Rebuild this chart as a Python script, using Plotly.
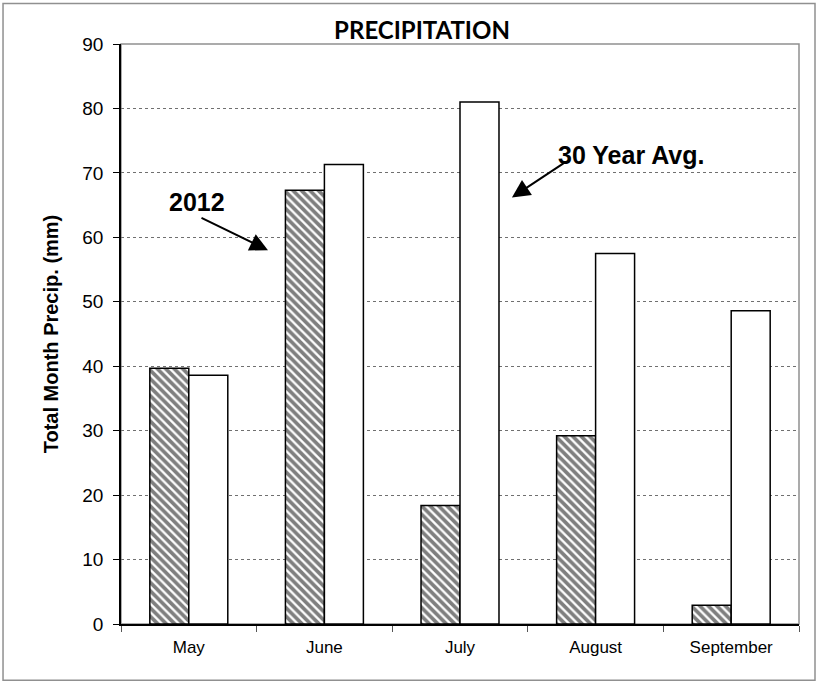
import plotly.graph_objects as go

months = ["May", "June", "July", "August", "September"]
precip_2012 = [39.7, 67.3, 18.4, 29.2, 2.9]
precip_30yr = [38.6, 71.3, 81.0, 57.5, 48.6]
y_ticks = [0, 10, 20, 30, 40, 50, 60, 70, 80, 90]

fig = go.Figure()
fig.add_trace(go.Bar(
    x=months, y=precip_2012, name="2012",
    marker=dict(color="white", line=dict(color="black", width=1.5),
                pattern=dict(shape="\\", fgcolor="black", bgcolor="white",
                             size=6, solidity=0.62, fillmode="overlay")),
))
fig.add_trace(go.Bar(
    x=months, y=precip_30yr, name="30 Year Avg.",
    marker=dict(color="white", line=dict(color="black", width=1.5)),
))

fig.update_layout(
    width=824, height=684,
    margin=dict(l=121, r=25, t=44, b=60),
    paper_bgcolor="white", plot_bgcolor="white",
    barmode="group", bargap=0.425, bargroupgap=0,
    showlegend=False,
    font=dict(family="Liberation Sans, Arial", color="black"),
    title=dict(text="<b>PRECIPITATION</b>", xref="container", x=422 / 824,
               xanchor="center", y=1 - 31 / 684, yanchor="middle",
               font=dict(family="Lato", size=24, color="black")),
)
fig.update_yaxes(
    range=[0, 90], tickvals=y_ticks, showgrid=True, gridcolor="#707070",
    griddash="dot", gridwidth=1, showline=True, linecolor="black", linewidth=1.5,
    ticks="outside", ticklen=6, tickcolor="black", tickfont=dict(size=19),
    ticklabelstandoff=6,
    title=dict(text="<b>Total Month Precip. (mm)</b>", font=dict(size=20), standoff=18),
    zeroline=False,
)
fig.update_xaxes(
    showline=True, linecolor="black", linewidth=1.5,
    ticks="outside", tickson="boundaries", ticklen=6, tickcolor="#555",
    tickfont=dict(size=17), ticklabelstandoff=7,
)

# plot area border (gray top/right) and outer chart border
fig.add_shape(type="rect", xref="paper", yref="paper", x0=0, x1=1, y0=0, y1=1,
              line=dict(color="#909090", width=1.5), layer="below")
fig.add_shape(type="rect", xref="paper", yref="paper",
              x0=-0.174, x1=1.0236, y0=-0.097, y1=1.070,
              line=dict(color="#909090", width=1.5), layer="below")

fig.add_annotation(x=0.584, y=58.0, xref="x", yref="y", ax=-68, ay=-33,
                   showarrow=True, arrowhead=2, arrowsize=1.8, arrowwidth=2,
                   arrowcolor="black", text="")
fig.add_annotation(x=0.06, y=65.5, xref="x", yref="y", text="<b>2012</b>",
                   showarrow=False, font=dict(size=25, color="black"))
fig.add_annotation(x=2.383, y=66.2, xref="x", yref="y", ax=53, ay=-35,
                   showarrow=True, arrowhead=2, arrowsize=1.8, arrowwidth=2,
                   arrowcolor="black", text="")
fig.add_annotation(x=3.26, y=72.8, xref="x", yref="y", text="<b>30 Year Avg.</b>",
                   showarrow=False, font=dict(size=25, color="black"))

fig.write_html("out.html", config={"displayModeBar": False},
               post_script="document.body.style.margin='0';")
